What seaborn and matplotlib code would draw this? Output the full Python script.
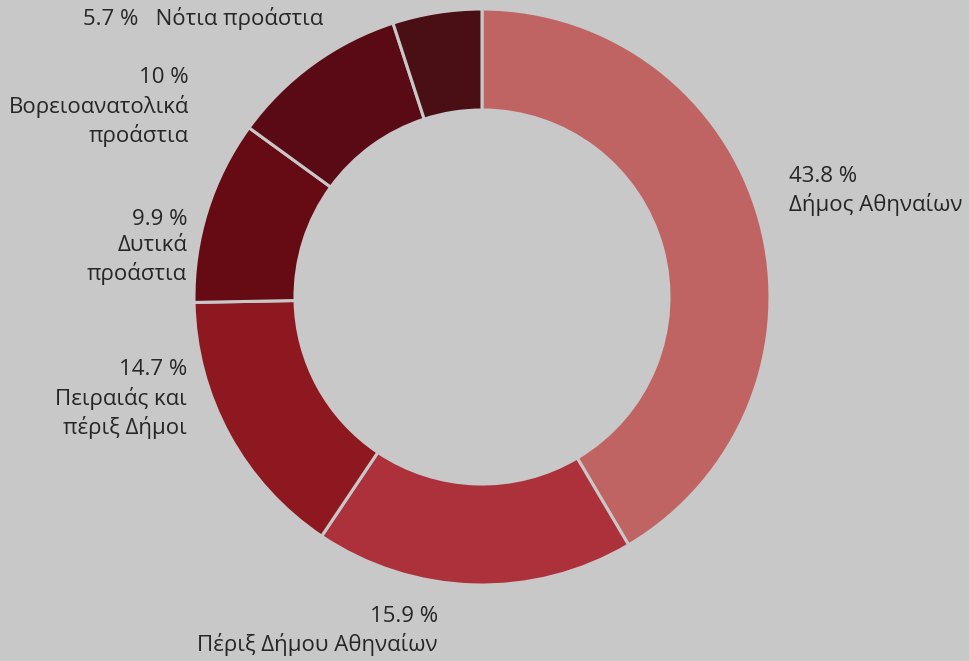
import matplotlib
matplotlib.use("Agg")
import matplotlib.pyplot as plt
import seaborn as sns

# Data
categories = ["Δήμος Αθηναίων", "Πέριξ Δήμου Αθηναίων", "Πειραιάς και\nπέριξ Δήμοι",
              "Δυτικά\nπροάστια", "Βορειοανατολικά\nπροάστια", "Νότια προάστια"]
values = [43.8, 15.9, 14.7, 9.9, 10, 5.7]          # shown in the labels
slice_shares = [41.5, 17.9, 15.3, 10.3, 10.0, 5.0]  # slice sizes as drawn in the picture

colors = ["#c06363", "#ad313a", "#8e1820", "#660a14", "#5a0a14", "#4a0f14"]
bg = "#c8c8c8"

sns.set_theme(style="white", rc={"figure.facecolor": bg, "axes.facecolor": bg})
plt.rcParams["font.family"] = ["Open Sans", "DejaVu Sans"]

W, H = 970, 661
cx, cy, R = 482, 297, 288
fig = plt.figure(figsize=(W / 100, H / 100), dpi=100)
ax = fig.add_axes([0, 0, 1, 1])
ax.set_facecolor(bg)

ax.pie(slice_shares, colors=colors, radius=1, startangle=90, counterclock=False,
       wedgeprops=dict(width=(288 - 187) / 288, edgecolor=bg, linewidth=2.2))

ax.set_xlim(-cx / R, (W - cx) / R)
ax.set_ylim((cy - H) / R, cy / R)
ax.set_aspect("equal")
ax.axis("off")

# label layout (pixel anchors, alignment)
layout = [
    (789, 191, "left", "two"),
    (438, 631, "right", "two"),
    (187, 399, "right", "two"),
    (187, 247, "right", "two"),
    (189, 107, "right", "two"),
    (323, 18, "right", "one"),
]
txtc = "#262626"
for cat, v, (px, py, ha, mode) in zip(categories, values, layout):
    vl = f"{v:g} %"
    if mode == "one":
        s = vl + "   " + cat
    else:
        s = vl + "\n" + cat
    ax.text((px - cx) / R, (cy - py) / R, s, ha=ha, va="center", multialignment=ha,
            fontsize=16, color=txtc, linespacing=1.34)

fig.savefig("out.png", dpi=100, facecolor=bg)
